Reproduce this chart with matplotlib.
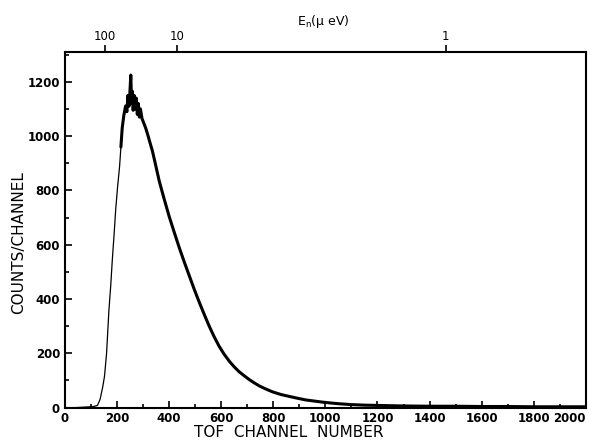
import matplotlib
matplotlib.use('Agg')
import matplotlib.pyplot as plt
from matplotlib.ticker import MultipleLocator

# TOF spectrum (channel, counts/channel)
channel = [0, 40, 80, 110, 125, 135, 145, 152, 160, 169, 176, 182, 189, 195, 202, 210,
           215, 220, 226, 233, 238, 242, 246, 250, 253, 256, 259, 262, 266, 270, 274,
           278, 282, 286, 290, 296, 302, 310, 318, 326, 336, 348, 362, 380, 400, 420,
           438, 458, 477, 496, 515, 535, 554, 573, 592, 611, 631, 650, 669, 690, 708,
           727, 746, 770, 797, 830, 862, 895, 926, 958, 990, 1020, 1054, 1100, 1150,
           1200, 1300, 1400, 1500, 1600, 1700, 1800, 1900, 2000]
counts = [0, 0, 2, 4, 8, 30, 75, 115, 200, 359, 450, 544, 640, 729, 810, 889,
          960, 1030, 1075, 1111, 1090, 1150, 1110, 1170, 1225, 1120, 1165, 1095, 1150, 1100, 1140,
          1080, 1120, 1070, 1100, 1065, 1050, 1030, 1005, 978, 945, 895, 835, 772, 705, 645,
          592, 537, 487, 437, 390, 343, 300, 261, 226, 197, 171, 150, 132, 116, 103,
          91, 80, 69, 58, 48, 41, 34, 28, 24, 20, 17, 14, 11, 9,
          8, 6, 5, 5, 4, 4, 3, 3, 3]

# top axis: neutron energy (micro-eV) against channel position
energy_labels = ['100', '10', '1']
energy_channels = [154, 431, 1462]

x_ticks = [0, 200, 400, 600, 800, 1000, 1200, 1400, 1600, 1800, 2000]

plt.rcParams['font.family'] = ['DejaVu Sans']

fig = plt.figure(figsize=(5.9, 4.44), dpi=100)
ax = fig.add_axes([0.110, 0.082, 0.883, 0.801])

k = 16
ax.plot(channel[:k + 1], counts[:k + 1], color='black', lw=0.9)
ax.plot(channel[k:], counts[k:], color='black', lw=2.2,
        solid_joinstyle='round', solid_capstyle='round')

ax.set_xlim(0, 2000)
ax.set_ylim(0, 1310)
ax.set_xticks(x_ticks)
ax.set_xticklabels([str(v) for v in x_ticks], fontweight='bold')
ax.get_xticklabels()[-1].set_horizontalalignment('right')
ax.xaxis.set_minor_locator(MultipleLocator(100))
ax.yaxis.set_major_locator(MultipleLocator(200))
ax.yaxis.set_minor_locator(MultipleLocator(100))
ax.tick_params(which='both', direction='in', width=1.2, labelsize=8.5, top=False, right=False)
ax.tick_params(which='major', length=5)
ax.tick_params(which='minor', length=3)
for lab in ax.get_yticklabels():
    lab.set_fontweight('bold')
for sp in ax.spines.values():
    sp.set_linewidth(1.5)

ax.set_xlabel('TOF  CHANNEL  NUMBER', fontsize=11)
ax.xaxis.set_label_coords(0.43, -0.05)
ax.set_ylabel('COUNTS/CHANNEL', fontsize=11)
ax.yaxis.set_label_coords(-0.075, 0.465)

top = ax.twiny()
top.set_xlim(ax.get_xlim())
top.set_xticks(energy_channels)
top.set_xticklabels(energy_labels, fontsize=8.5)
top.tick_params(direction='out', length=5, width=1.2, pad=1.5)
top.set_xlabel(r'$\mathrm{E_n}$(µ eV)', fontsize=9)
top.xaxis.set_label_coords(0.497, 1.075)
for sp in top.spines.values():
    sp.set_visible(False)

fig.savefig('out.png', dpi=100)
